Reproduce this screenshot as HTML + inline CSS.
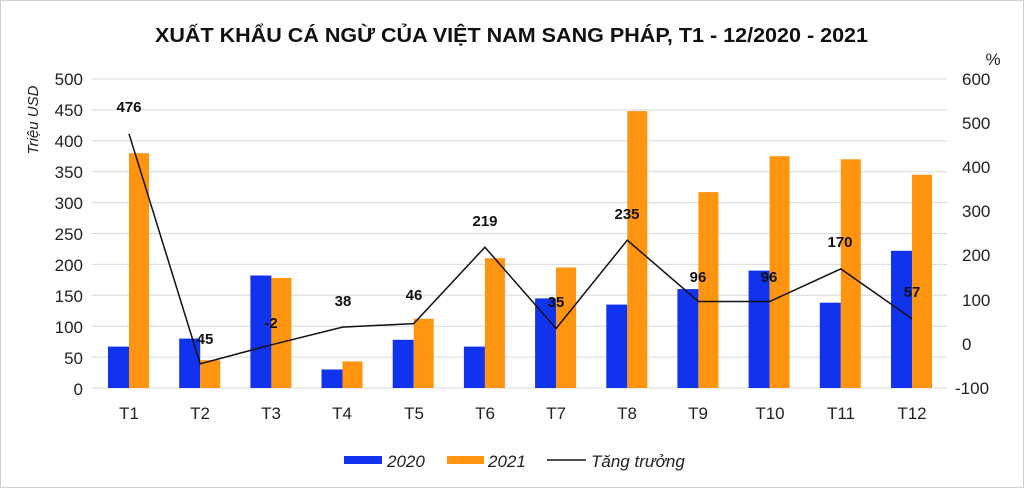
<!DOCTYPE html>
<html><head><meta charset="utf-8"><style>html,body{margin:0;padding:0;background:#fff}svg{display:block}</style></head>
<body>
<svg width="1024" height="488" xmlns="http://www.w3.org/2000/svg" font-family="Liberation Sans, sans-serif">
<rect x="0.5" y="0.5" width="1023" height="487" fill="#fff" stroke="#d0d0d0"/>
<text x="155" y="42" font-size="20" font-weight="bold" textLength="713" lengthAdjust="spacingAndGlyphs" fill="#111">XUẤT KHẨU CÁ NGỪ CỦA VIỆT NAM SANG PHÁP,  T1 - 12/2020 - 2021</text>
<g stroke="#d9d9d9" stroke-width="1">
<line x1="92" x2="947" y1="79" y2="79"/><line x1="92" x2="947" y1="109.9" y2="109.9"/><line x1="92" x2="947" y1="140.8" y2="140.8"/><line x1="92" x2="947" y1="171.7" y2="171.7"/><line x1="92" x2="947" y1="202.6" y2="202.6"/><line x1="92" x2="947" y1="233.5" y2="233.5"/><line x1="92" x2="947" y1="264.4" y2="264.4"/><line x1="92" x2="947" y1="295.3" y2="295.3"/><line x1="92" x2="947" y1="326.2" y2="326.2"/><line x1="92" x2="947" y1="357.1" y2="357.1"/><line x1="92" x2="947" y1="388" y2="388"/>
</g>
<g font-size="17" fill="#222" text-anchor="end">
<text x="83" y="85">500</text><text x="83" y="116">450</text><text x="83" y="147">400</text><text x="83" y="178">350</text><text x="83" y="209">300</text><text x="83" y="240">250</text><text x="83" y="271">200</text><text x="83" y="302">150</text><text x="83" y="333">100</text><text x="83" y="364">50</text><text x="83" y="395">0</text>
</g>
<g font-size="17" fill="#222" text-anchor="start">
<text x="962" y="85">600</text><text x="962" y="129">500</text><text x="962" y="173">400</text><text x="962" y="217">300</text><text x="962" y="261">200</text><text x="962" y="306">100</text><text x="962" y="350">0</text><text x="955" y="394">-100</text>
</g>
<text x="993" y="65" font-size="17" fill="#222" text-anchor="middle">%</text>
<text transform="translate(38,120) rotate(-90)" font-size="15" font-style="italic" fill="#222" text-anchor="middle">Triệu USD</text>
<g fill="#1133ee">
<rect x="108" y="346.6" width="21" height="41.4"/><rect x="179.2" y="338.6" width="21" height="49.4"/><rect x="250.4" y="275.5" width="21" height="112.5"/><rect x="321.5" y="369.5" width="21" height="18.5"/><rect x="392.7" y="339.8" width="21" height="48.2"/><rect x="463.9" y="346.6" width="21" height="41.4"/><rect x="535.1" y="298.4" width="21" height="89.6"/><rect x="606.3" y="304.6" width="21" height="83.4"/><rect x="677.4" y="289.1" width="21" height="98.9"/><rect x="748.6" y="270.6" width="21" height="117.4"/><rect x="819.8" y="302.7" width="21" height="85.3"/><rect x="891" y="250.8" width="21" height="137.2"/>
</g>
<g fill="#ff9410">
<rect x="129" y="153.2" width="20" height="234.8"/><rect x="200.2" y="360.2" width="20" height="27.8"/><rect x="271.4" y="278" width="20" height="110"/><rect x="342.5" y="361.4" width="20" height="26.6"/><rect x="413.7" y="318.8" width="20" height="69.2"/><rect x="484.9" y="258.2" width="20" height="129.8"/><rect x="556.1" y="267.5" width="20" height="120.5"/><rect x="627.3" y="111.1" width="20" height="276.9"/><rect x="698.4" y="192.1" width="20" height="195.9"/><rect x="769.6" y="156.2" width="20" height="231.8"/><rect x="840.8" y="159.3" width="20" height="228.7"/><rect x="912" y="174.8" width="20" height="213.2"/>
</g>
<polyline fill="none" stroke="#111" stroke-width="1.5" points="129,133.8 200.2,363.8 271.4,344.8 342.5,327.1 413.7,323.6 484.9,247.2 556.1,328.5 627.3,240.2 698.4,301.5 769.6,301.5 840.8,268.9 912,318.7"/>
<g font-size="15" font-weight="bold" fill="#111" text-anchor="middle">
<text x="129" y="112">476</text><text x="205" y="344">45</text><text x="271" y="328">-2</text><text x="343" y="306">38</text><text x="414" y="300">46</text><text x="485" y="226">219</text><text x="556" y="307">35</text><text x="627" y="219">235</text><text x="698" y="282">96</text><text x="769" y="282">96</text><text x="840" y="247">170</text><text x="912" y="297">57</text>
</g>
<g font-size="17" fill="#222" text-anchor="middle">
<text x="129" y="419">T1</text><text x="200" y="419">T2</text><text x="271" y="419">T3</text><text x="342" y="419">T4</text><text x="414" y="419">T5</text><text x="485" y="419">T6</text><text x="556" y="419">T7</text><text x="627" y="419">T8</text><text x="698" y="419">T9</text><text x="770" y="419">T10</text><text x="841" y="419">T11</text><text x="912" y="419">T12</text>
</g>
<rect x="344" y="456" width="38" height="8" fill="#1133ee"/>
<text x="387" y="467" font-size="17" font-style="italic" fill="#222">2020</text>
<rect x="447" y="456" width="37" height="8" fill="#ff9410"/>
<text x="488" y="467" font-size="17" font-style="italic" fill="#222">2021</text>
<line x1="547" x2="586" y1="460" y2="460" stroke="#111" stroke-width="1.5"/>
<text x="591" y="467" font-size="17" font-style="italic" fill="#222">Tăng trưởng</text>
</svg>
</body></html>
